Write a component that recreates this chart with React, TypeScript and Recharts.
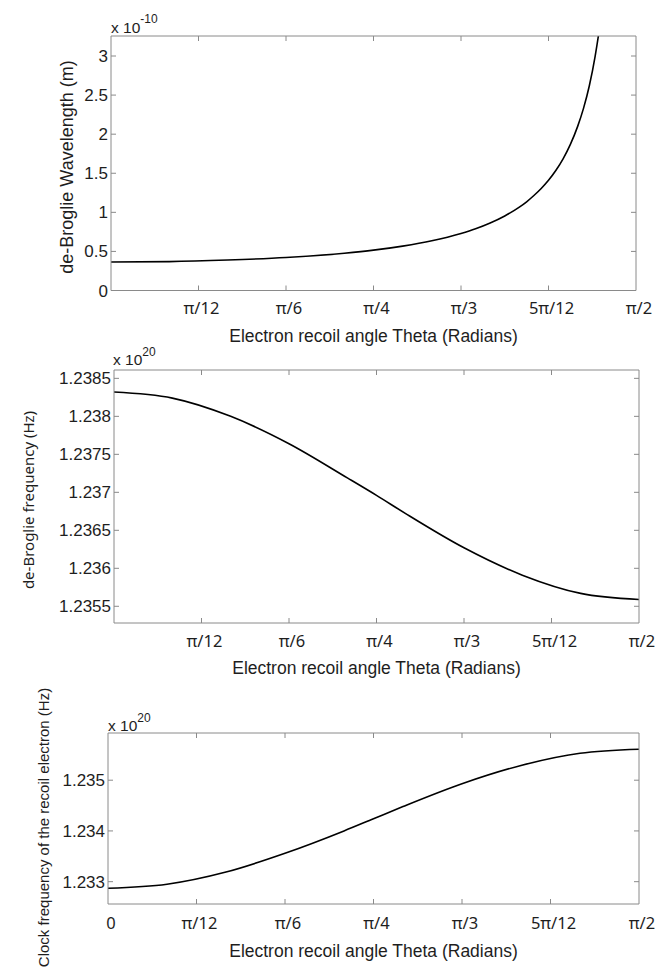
import React from "react";
import { LineChart, Line, XAxis, YAxis } from "recharts";

const PI = Math.PI;

// recoil angle samples (degrees) and values
const THETA_WAVE = [0, 10, 20, 30, 40, 45, 50, 55, 60, 62.5, 65, 67.5, 70, 71.25, 72.5, 73.75, 75, 76.25, 77.5, 78.75, 80, 81, 82, 83, 84, 85];
const WAVELENGTH = [0.365, 0.37, 0.39, 0.422, 0.477, 0.516, 0.568, 0.636, 0.73, 0.79, 0.864, 0.954, 1.067, 1.135, 1.215, 1.305, 1.41, 1.535, 1.685, 1.87, 2.1, 2.33, 2.62, 3.0, 3.5, 4.2];

const THETA_FREQ = [0, 10, 20, 30, 40, 45, 50, 60, 70, 80, 90];
const DB_FREQ = [1.23832, 1.23824, 1.238, 1.23764, 1.23719, 1.23696, 1.23672, 1.23627, 1.23591, 1.23567, 1.23559];
const CLOCK_FREQ = [1.23287, 1.23295, 1.23319, 1.23356, 1.234, 1.23424, 1.23448, 1.23493, 1.23529, 1.23553, 1.23561];

const X_TICK_LABELS = ["0", "π/12", "π/6", "π/4", "π/3", "5π/12", "π/2"];
const X_TICKS = X_TICK_LABELS.map((_, i) => (i * PI) / 12);

const WAVE_TICKS = [0, 0.5, 1, 1.5, 2, 2.5, 3];
const DB_TICKS = [1.2355, 1.236, 1.2365, 1.237, 1.2375, 1.238, 1.2385];
const CLOCK_TICKS = [1.233, 1.234, 1.235];

const W = 657;
const FRAME = "#8a8a8a";
const TEXT = "#1e1e1e";
const SANS = "'Liberation Sans', Arial, sans-serif";
const PI_FONT = "'Noto Sans', sans-serif";

const toRows = (deg: number[], vals: number[]) =>
  deg.map((d, i) => ({ x: (d * PI) / 180, y: vals[i] }));

const isEnd = (v: number) => v < 1e-9 || Math.abs(v - PI / 2) < 1e-9;

type PanelProps = {
  top: number;
  height: number;
  plot: { left: number; right: number; top: number; bottom: number };
  rows: { x: number; y: number }[];
  yDomain: [number, number];
  yTicks: number[];
  showZero: boolean;
  labelDrop: number;
};

function Panel({ top, height, plot, rows, yDomain, yTicks, showZero, labelDrop }: PanelProps) {
  // each axis takes 1px outside the plot box
  const margin = {
    top: plot.top - top - 1,
    bottom: top + height - plot.bottom - 1,
    left: plot.left - 1,
    right: W - plot.right - 1,
  };

  const bottomTick = (p: any) => {
    const v = p.payload.value;
    const i = X_TICKS.findIndex((t) => Math.abs(t - v) < 1e-9);
    const label = i === 0 && !showZero ? "" : X_TICK_LABELS[i];
    return (
      <g>
        {!isEnd(v) && <line x1={p.x} x2={p.x} y1={p.y} y2={p.y - 5} stroke={FRAME} />}
        <text x={p.x + 3} y={p.y + labelDrop} textAnchor="middle" fontSize={16.5} fontFamily={PI_FONT} fill={TEXT}>
          {label}
        </text>
      </g>
    );
  };

  const topTick = (p: any) =>
    isEnd(p.payload.value) ? <g /> : <line x1={p.x} x2={p.x} y1={p.y} y2={p.y + 5} stroke={FRAME} />;

  const leftTick = (p: any) => (
    <g>
      <line x1={p.x} x2={p.x + 5} y1={p.y} y2={p.y} stroke={FRAME} />
      <text x={p.x - 3} y={p.y + 6} textAnchor="end" fontSize={17} fontFamily={SANS} fill={TEXT}>
        {String(p.payload.value)}
      </text>
    </g>
  );

  const rightTick = (p: any) => <line x1={p.x} x2={p.x - 5} y1={p.y} y2={p.y} stroke={FRAME} />;

  return (
    <div style={{ position: "absolute", left: 0, top }}>
      <LineChart width={W} height={height} data={rows} margin={margin}>
        <XAxis
          dataKey="x"
          type="number"
          domain={[0, PI / 2]}
          ticks={X_TICKS}
          interval={0}
          allowDataOverflow
          height={1}
          tickSize={0}
          tickMargin={0}
          tickLine={false}
          axisLine={{ stroke: FRAME }}
          tick={bottomTick}
        />
        <XAxis
          xAxisId="top"
          orientation="top"
          dataKey="x"
          type="number"
          domain={[0, PI / 2]}
          ticks={X_TICKS}
          interval={0}
          allowDataOverflow
          height={1}
          tickSize={0}
          tickMargin={0}
          tickLine={false}
          axisLine={{ stroke: FRAME }}
          tick={topTick}
        />
        <YAxis
          type="number"
          domain={yDomain}
          ticks={yTicks}
          interval={0}
          allowDataOverflow
          width={1}
          tickSize={0}
          tickMargin={0}
          tickLine={false}
          axisLine={{ stroke: FRAME }}
          tick={leftTick}
        />
        <YAxis
          yAxisId="right"
          orientation="right"
          type="number"
          domain={yDomain}
          ticks={yTicks}
          interval={0}
          allowDataOverflow
          width={1}
          tickSize={0}
          tickMargin={0}
          tickLine={false}
          axisLine={{ stroke: FRAME }}
          tick={rightTick}
        />
        <Line
          type="monotone"
          dataKey="y"
          stroke="#000"
          strokeWidth={1.6}
          dot={false}
          activeDot={false}
          isAnimationActive={false}
        />
      </LineChart>
    </div>
  );
}

export default function App() {
  const xTitle = "Electron recoil angle Theta (Radians)";
  return (
    <div style={{ position: "absolute", left: 0, top: 0, width: W, height: 969, background: "#fff" }}>
      <Panel
        top={0}
        height={322}
        plot={{ left: 111, right: 636, top: 36, bottom: 290.5 }}
        rows={toRows(THETA_WAVE, WAVELENGTH)}
        yDomain={[0, 3.256]}
        yTicks={WAVE_TICKS}
        showZero={false}
        labelDrop={23}
      />
      <Panel
        top={330}
        height={330}
        plot={{ left: 114, right: 639, top: 370, bottom: 623 }}
        rows={toRows(THETA_FREQ, DB_FREQ)}
        yDomain={[1.23528, 1.23861]}
        yTicks={DB_TICKS}
        showZero={false}
        labelDrop={24}
      />
      <Panel
        top={690}
        height={279}
        plot={{ left: 108, right: 639, top: 733, bottom: 904 }}
        rows={toRows(THETA_FREQ, CLOCK_FREQ)}
        yDomain={[1.23256, 1.23593]}
        yTicks={CLOCK_TICKS}
        showZero={true}
        labelDrop={25}
      />
      <svg
        width={W}
        height={969}
        style={{ position: "absolute", left: 0, top: 0, pointerEvents: "none" }}
      >
        <g fontFamily={SANS} fill={TEXT}>
          <text x={111} y={33} fontSize={15.5}>
            x 10<tspan dy={-10} fontSize={12}>-10</tspan>
          </text>
          <text x={113} y={365} fontSize={15.5}>
            x 10<tspan dy={-9} fontSize={12}>20</tspan>
          </text>
          <text x={108} y={730.5} fontSize={15.5}>
            x 10<tspan dy={-9} fontSize={12}>20</tspan>
          </text>

          <text x={373.5} y={342} fontSize={17.5} textAnchor="middle">{xTitle}</text>
          <text x={376.5} y={674} fontSize={17.5} textAnchor="middle">{xTitle}</text>
          <text x={373.5} y={957} fontSize={17.5} textAnchor="middle">{xTitle}</text>

          <text x={67} y={167} fontSize={18} textAnchor="middle" dominantBaseline="central" transform="rotate(-90 67 167)">
            de-Broglie Wavelength (m)
          </text>
          <text
            x={28}
            y={500}
            fontSize={15}
            fontFamily={PI_FONT}
            textAnchor="middle"
            dominantBaseline="central"
            transform="rotate(-90 28 500)"
          >
            de-Broglie frequency (Hz)
          </text>
          <text x={43} y={827.5} fontSize={15} textAnchor="middle" dominantBaseline="central" transform="rotate(-90 43 827.5)">
            Clock frequency of the recoil electron (Hz)
          </text>
        </g>
      </svg>
    </div>
  );
}
